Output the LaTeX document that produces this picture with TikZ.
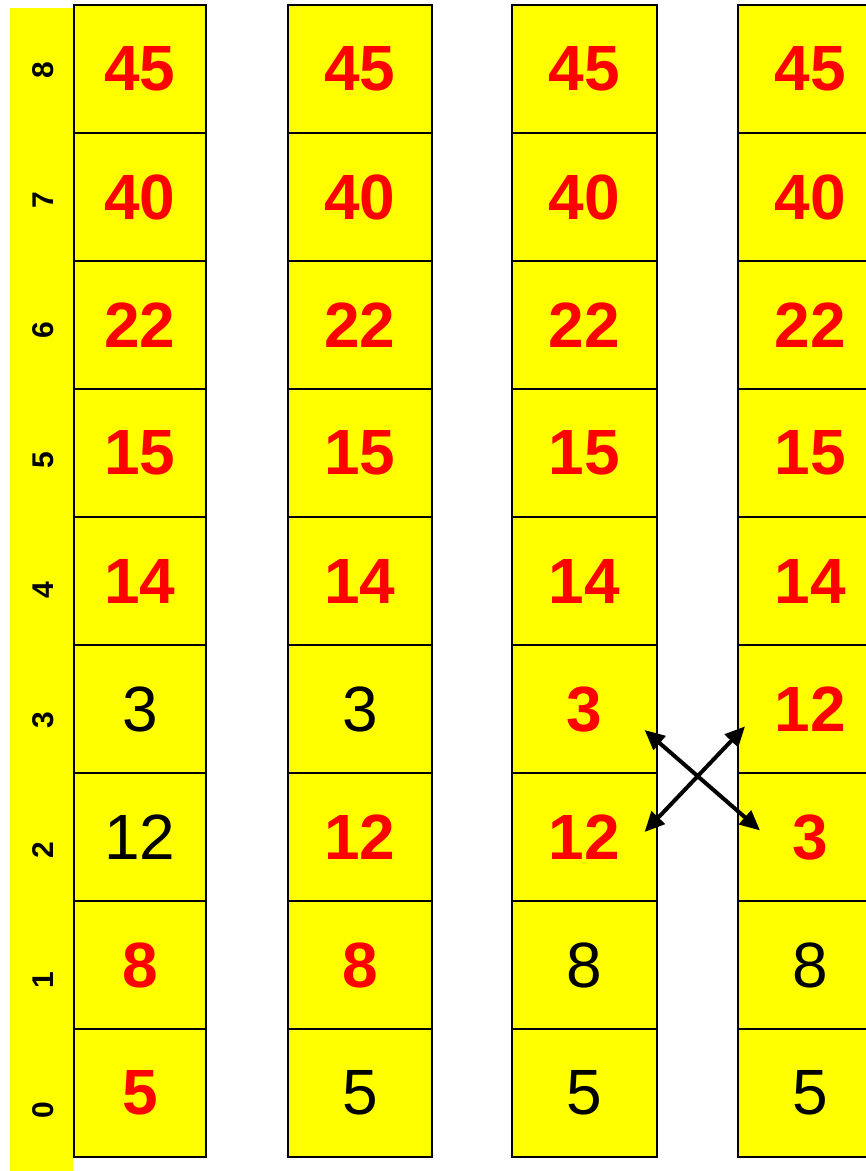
\documentclass[tikz,border=0pt]{standalone}
\usepackage{fontspec}
\setmainfont{Liberation Sans}
\usepackage{tikz}
\usetikzlibrary{arrows.meta}

\definecolor{cellyellow}{RGB}{255,255,0}
\definecolor{hotred}{RGB}{255,0,0}

\begin{document}
\begin{tikzpicture}[x=1pt, y=1pt,
    cell/.style={draw=black, line width=1.6pt, fill=cellyellow, minimum height=128pt, inner sep=0pt, anchor=south west},
    hot/.style={text=hotred, font=\fontsize{64}{64}\selectfont\bfseries},
    cold/.style={text=black, font=\fontsize{64}{64}\selectfont},
    idx/.style={rotate=90, font=\fontsize{30}{30}\selectfont\bfseries},
    swap/.style={{Triangle[length=20pt,width=18pt]}-{Triangle[length=20pt,width=18pt]}, line width=4pt}]

    \clip (0,0) rectangle (866,1171);

    % Index strip on the left
    \fill[cellyellow] (10,0) rectangle (73,1163);
    \foreach \i in {0,...,8}
        \node[idx] (i\i) at (43, 61+130*\i) {\i};

    % The four snapshots of the array
    \foreach \c/\x/\w/\vals in {
        1/73/132/{5/hot,8/hot,12/cold,3/cold,14/hot,15/hot,22/hot,40/hot,45/hot},
        2/287/144/{5/cold,8/hot,12/hot,3/cold,14/hot,15/hot,22/hot,40/hot,45/hot},
        3/511/145/{5/cold,8/cold,12/hot,3/hot,14/hot,15/hot,22/hot,40/hot,45/hot},
        4/737/145/{5/cold,8/cold,3/hot,12/hot,14/hot,15/hot,22/hot,40/hot,45/hot}}
        \foreach \v/\s [count=\r from 0] in \vals
            \node[cell, minimum width=\w pt, \s] (c\c-\r) at (\x, 13+128*\r) {\v};

    % Swap of 3 and 12
    \coordinate (a1) at ([shift={(-13,44)}]c3-3.south east);
    \coordinate (b1) at ([shift={(23,-58)}]c4-2.north west);
    \coordinate (a2) at ([shift={(8,46)}]c4-2.north west);
    \coordinate (b2) at ([shift={(-13,-58)}]c3-3.south east);
    \draw[swap] (a1) -- (b1);
    \draw[swap] (a2) -- (b2);
\end{tikzpicture}
\end{document}
